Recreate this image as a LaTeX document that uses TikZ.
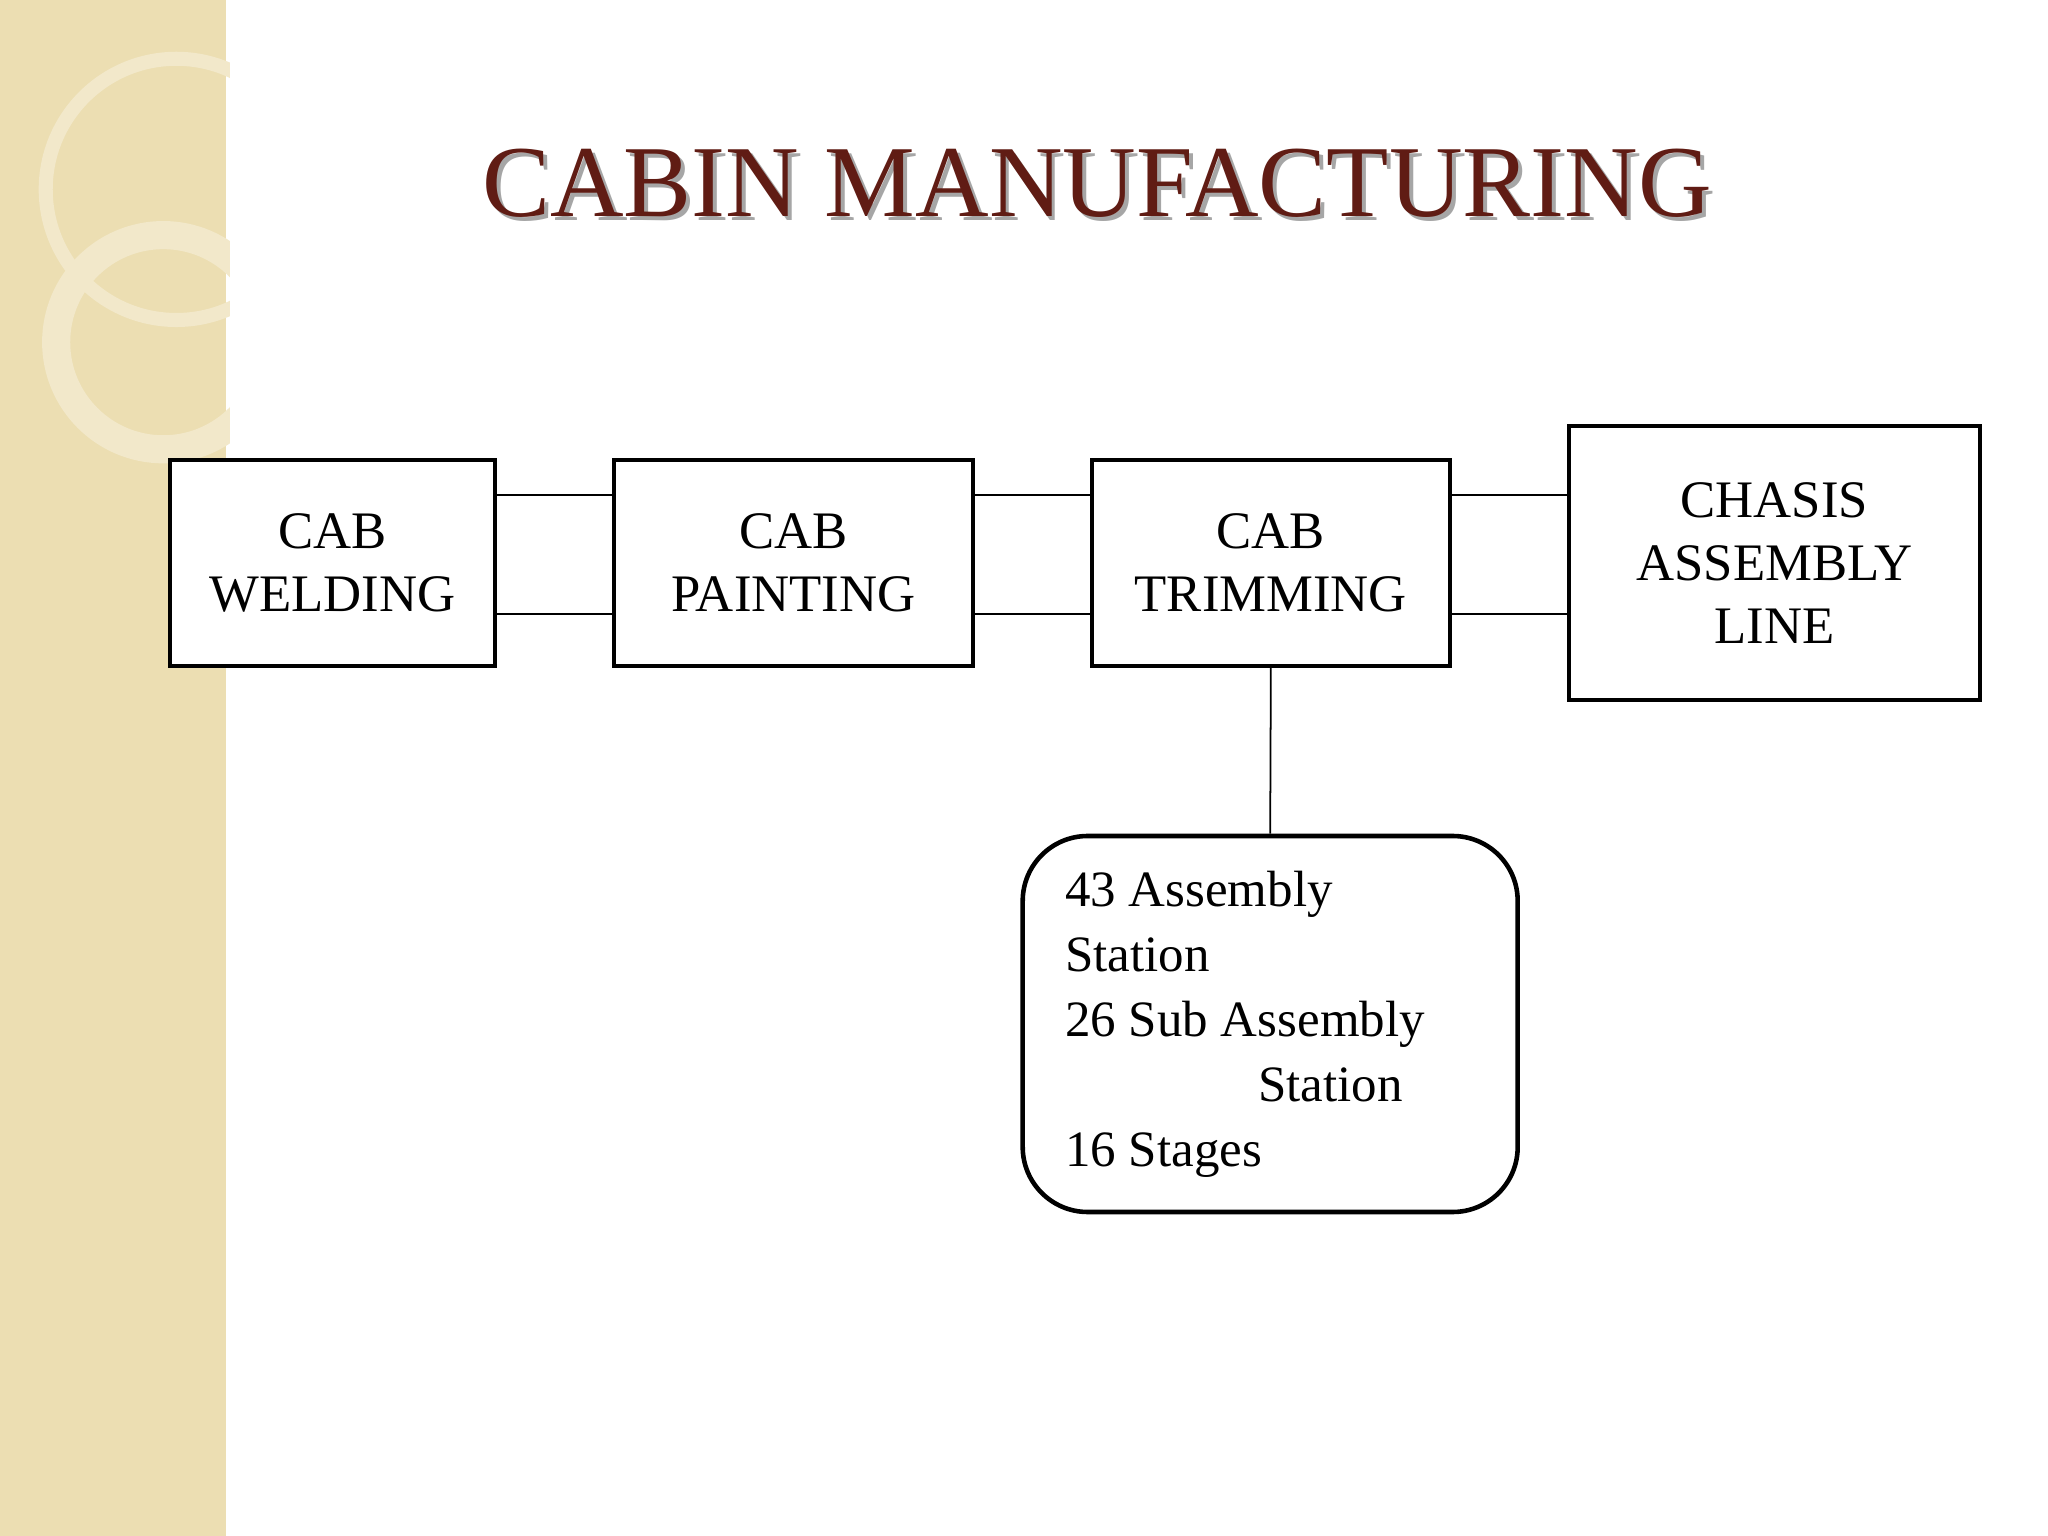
\documentclass[tikz,border=0pt]{standalone}
\usepackage{fontspec}
\setmainfont{Liberation Serif}
\definecolor{strip}{RGB}{236,222,178}
\definecolor{ring}{RGB}{242,232,202}
\definecolor{titlered}{RGB}{96,28,20}
\begin{document}
\begin{tikzpicture}[x=0.01306cm, y=-0.01306cm, thick]
        \tikzset{stage/.style={rectangle,draw=black,line width=1.3pt,fill=white,inner sep=0pt,minimum height=2.06cm,align=center,font=\fontsize{15}{18}\selectfont}}
        \tikzset{info/.style={rectangle,rounded corners=0.65cm,draw=black,line width=1.3pt,fill=white,inner sep=0pt,minimum width=4.95cm,minimum height=3.76cm,text width=4.1cm,align=flush left,font=\fontsize{14.5}{18.5}\selectfont}}
        \tikzset{link/.style={draw=black,line width=0.5pt}}

        % background and decoration
        \useasboundingbox (0,0) rectangle (1568,1176);
        \fill[white] (0,0) rectangle (1568,1176);
        \fill[strip] (0,0) rectangle (173,1176);
        \begin{scope}
          \clip (0,0) rectangle (176,1176);
          \draw[ring, line width=4pt] (135,145) circle (100);
          \draw[ring, line width=8pt] (125,262) circle (82);
        \end{scope}

        % title
        \node[text=gray!70, font=\fontsize{29}{34}\selectfont] at (843,143) {CABIN MANUFACTURING};
        \node[text=titlered, font=\fontsize{29}{34}\selectfont] (title) at (840,140) {CABIN MANUFACTURING};

        \node[stage, minimum width=3.25cm] (weld) at (254.5,431) {CAB\\WELDING};
        \node[stage, minimum width=3.59cm] (paint) at (607.5,431) {CAB\\PAINTING};
        \node[stage, minimum width=3.58cm] (trim) at (973,431) {CAB\\TRIMMING};
        \node[stage, minimum width=4.11cm, minimum height=2.74cm] (chasis) at (1358.5,431) {CHASIS\\ASSEMBLY\\LINE};
        \node[info] (stations) at (972.5,784) {43 Assembly\\Station\\26 Sub Assembly\\\hspace*{1.93cm}Station\\16 Stages};

        \draw[link] ([yshift=0.68cm]weld.east) -- ([yshift=0.68cm]paint.west);
        \draw[link] ([yshift=-0.51cm]weld.east) -- ([yshift=-0.51cm]paint.west);
        \draw[link] ([yshift=0.68cm]paint.east) -- ([yshift=0.68cm]trim.west);
        \draw[link] ([yshift=-0.51cm]paint.east) -- ([yshift=-0.51cm]trim.west);
        \draw[link] ([yshift=0.68cm]trim.east) -- ([yshift=0.68cm]chasis.west);
        \draw[link] ([yshift=-0.51cm]trim.east) -- ([yshift=-0.51cm]chasis.west);
        \draw[link] (trim.south) -- (stations.north);
\end{tikzpicture}
\end{document}
